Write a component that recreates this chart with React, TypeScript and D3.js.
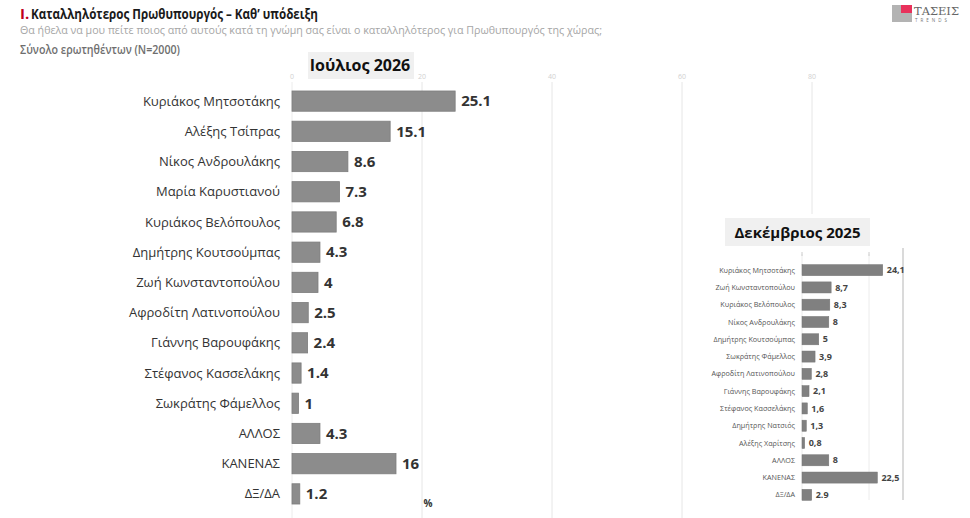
import React from "react";
import * as d3 from "d3";

const julyCategories = [
  "Κυριάκος Μητσοτάκης", "Αλέξης Τσίπρας", "Νίκος Ανδρουλάκης", "Μαρία Καρυστιανού",
  "Κυριάκος Βελόπουλος", "Δημήτρης Κουτσούμπας", "Ζωή Κωνσταντοπούλου", "Αφροδίτη Λατινοπούλου",
  "Γιάννης Βαρουφάκης", "Στέφανος Κασσελάκης", "Σωκράτης Φάμελλος", "ΑΛΛΟΣ", "ΚΑΝΕΝΑΣ", "ΔΞ/ΔΑ",
];
const julyValues = [25.1, 15.1, 8.6, 7.3, 6.8, 4.3, 4, 2.5, 2.4, 1.4, 1, 4.3, 16, 1.2];
const julyTicks = [0, 20, 40, 60, 80];

const decCategories = [
  "Κυριάκος Μητσοτάκης", "Ζωή Κωνσταντοπούλου", "Κυριάκος Βελόπουλος", "Νίκος Ανδρουλάκης",
  "Δημήτρης Κουτσούμπας", "Σωκράτης Φάμελλος", "Αφροδίτη Λατινοπούλου", "Γιάννης Βαρουφάκης",
  "Στέφανος Κασσελάκης", "Δημήτρης Νατσιός", "Αλέξης Χαρίτσης", "ΑΛΛΟΣ", "ΚΑΝΕΝΑΣ", "ΔΞ/ΔΑ",
];
const decValues = [24.1, 8.7, 8.3, 8, 5, 3.9, 2.8, 2.1, 1.6, 1.3, 0.8, 8, 22.5, 2.9];
const decLabels = ["24,1", "8,7", "8,3", "8", "5", "3,9", "2,8", "2,1", "1,6", "1,3", "0,8", "8", "22,5", "2.9"];

const FONT = "'Open Sans', 'DejaVu Sans', sans-serif";

export default function App() {
  const W = 970, H = 518;

  // main chart scales
  const x = d3.scaleLinear().domain([0, 80]).range([292, 812]);
  const y = d3.scaleBand().domain(julyCategories).range([86, 509]).paddingInner(0.33).paddingOuter(0.165);

  // small chart scales
  const xs = d3.scaleLinear().domain([0, 20]).range([802, 869]);
  const ys = d3.scaleBand().domain(decCategories).range([261.5, 503.5]).paddingInner(0.36).paddingOuter(0.18);

  return (
    <svg width={W} height={H} style={{ position: "absolute", left: 0, top: 0, background: "#fff" }} fontFamily={FONT}>
      <rect width={W} height={H} fill="#fff" />
      {/* header */}
      <text x={20} y={19} fontSize={15} fontWeight={700} fill="#c0001a">I.</text>
      <text x={31} y={19} fontSize={15} fontWeight={700} fill="#1a1a1a" textLength={287} lengthAdjust="spacingAndGlyphs">
        Καταλληλότερος  Πρωθυπουργός – Καθ’ υπόδειξη
      </text>
      <text x={20} y={34} fontSize={10.5} fill="#a6a6a6" textLength={582} lengthAdjust="spacingAndGlyphs">
        Θα ήθελα να μου πείτε ποιος από αυτούς κατά τη γνώμη σας είναι ο καταλληλότερος για Πρωθυπουργός της χώρας;
      </text>
      <text x={20} y={54} fontSize={12} fontWeight={600} fill="#6e6e6e" textLength={160} lengthAdjust="spacingAndGlyphs">
        Σύνολο ερωτηθέντων (N=2000)
      </text>

      {/* logo */}
      <g>
        <rect x={892} y={5} width={20} height={17} fill="#b3b3b3" />
        <rect x={901} y={5} width={11} height={8} fill="#e8315b" />
        <text x={914} y={15} fontSize={11} fill="#666" fontFamily="'DejaVu Serif', serif" textLength={45} lengthAdjust="spacingAndGlyphs">ΤΑΣΕΙΣ</text>
        <text x={915} y={22} fontSize={4.5} fill="#777" letterSpacing={3}>TRENDS</text>
      </g>

      {/* main gridlines */}
      {julyTicks.map((t) => (
        <g key={t}>
          <line x1={x(t)} x2={x(t)} y1={82} y2={H} stroke={t === 0 ? "#ececec" : "#e6e6e6"} strokeWidth={1} />
          <text x={x(t)} y={79} fontSize={7} fill="#d0d0d0" textAnchor="middle">{t}</text>
        </g>
      ))}

      {/* period box */}
      <rect x={308} y={52} width={106} height={27} fill="#f0f0f0" />
      <text x={360} y={71} fontSize={16} fontWeight={700} fill="#111" textAnchor="middle">Ιούλιος 2026</text>

      {/* main bars */}
      {julyCategories.map((c, i) => {
        const yy = y(c)!;
        const bw = y.bandwidth();
        return (
          <g key={c}>
            <rect x={x(0)} y={yy} width={x(julyValues[i]) - x(0)} height={bw} fill="#8c8c8c" stroke="#7d7d7d" strokeWidth={0.8} />
            <text x={280} y={yy + bw / 2} dy="0.35em" fontSize={13} fill="#333" textAnchor="end">{c}</text>
            <text x={x(julyValues[i]) + 6} y={yy + bw / 2} dy="0.35em" fontSize={15} fontWeight={700} fill="#333">
              {String(julyValues[i])}
            </text>
          </g>
        );
      })}
      <text x={428} y={507} fontSize={10} fontWeight={700} fill="#333" textAnchor="middle">%</text>

      {/* small inset panel */}
      <rect x={700} y={214} width={270} height={304} fill="#fff" />
      <rect x={725} y={218} width={145} height={28} fill="#f0f0f0" />
      <text x={797.5} y={238} fontSize={15} fontWeight={700} fill="#111" textAnchor="middle">Δεκέμβριος 2025</text>

      {[0, 20].map((t) => (
        <g key={t}>
          <line x1={xs(t)} x2={xs(t)} y1={254} y2={500} stroke="#ececec" />
          <line x1={xs(t)} x2={xs(t)} y1={252} y2={256} stroke="#ccc" />
        </g>
      ))}
      <line x1={903} x2={903} y1={248} y2={500} stroke="#b5b5b5" strokeWidth={1} />

      {decCategories.map((c, i) => {
        const yy = ys(c)!;
        const bw = ys.bandwidth();
        return (
          <g key={c + i}>
            <rect x={xs(0)} y={yy} width={xs(decValues[i]) - xs(0)} height={bw} fill="#808080" stroke="#747474" strokeWidth={0.5} />
            <text x={795} y={yy + bw / 2} dy="0.35em" fontSize={7.2} fill="#555" textAnchor="end">{c}</text>
            <text x={xs(decValues[i]) + 4} y={yy + bw / 2} dy="0.35em" fontSize={9} fontWeight={700} fill="#444">
              {decLabels[i]}
            </text>
          </g>
        );
      })}
    </svg>
  );
}
